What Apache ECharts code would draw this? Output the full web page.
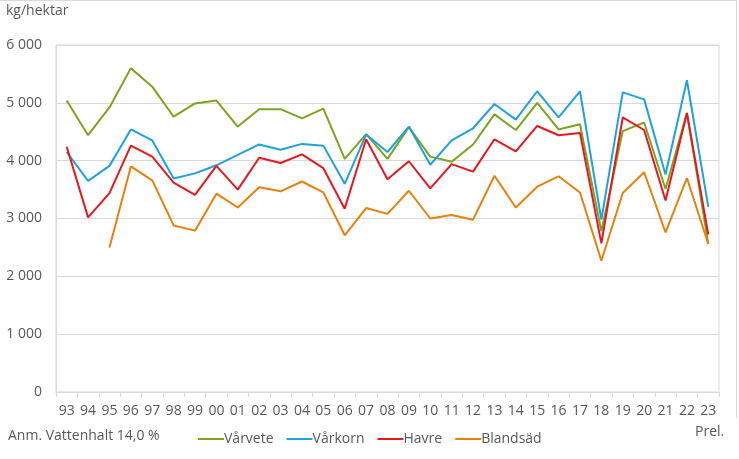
<!DOCTYPE html>
<html>
<head>
<meta charset="utf-8">
<script src="https://cdn.jsdelivr.net/npm/echarts@6/dist/echarts.min.js"></script>
<style>
html,body{margin:0;padding:0;background:#fff;}
#chart{width:739px;height:459px;}
</style>
</head>
<body>
<div id="chart"></div>
<script>
const categories = ['93','94','95','96','97','98','99','00','01','02','03','04','05','06','07','08','09','10','11','12','13','14','15','16','17','18','19','20','21','22','23'];
const varvete = [5040,4440,4920,5600,5280,4760,4990,5040,4590,4890,4890,4730,4900,4030,4460,4030,4580,4070,3980,4280,4800,4530,5000,4540,4630,2780,4510,4660,3510,4830,2560];
const varkorn = [4150,3650,3910,4540,4350,3690,3780,3920,4100,4280,4190,4290,4260,3600,4450,4150,4590,3930,4350,4560,4980,4710,5200,4750,5200,2980,5180,5060,3760,5390,3200];
const havre = [4240,3020,3440,4260,4070,3620,3410,3910,3500,4050,3960,4110,3870,3170,4370,3680,3990,3520,3940,3810,4370,4160,4600,4440,4480,2570,4750,4530,3310,4820,2720];
const blandsad = [null,null,2500,3900,3660,2880,2790,3430,3190,3540,3470,3640,3450,2710,3180,3080,3480,3000,3060,2980,3740,3190,3550,3730,3450,2270,3440,3800,2760,3700,2560];
const seriesNames = ['Vårvete','Vårkorn','Havre','Blandsäd'];
const yTicks = [0,1000,2000,3000,4000,5000,6000];

const colors = ['#7ba41f','#1fa2dc','#e8171f','#e8810c'];
const font = 'Open Sans';
const txt = '#595959';

const chart = echarts.init(document.getElementById('chart'));
const mk = (name, data, c) => ({
  name, type:'line', data, symbol:'none', connectNulls:false,
  lineStyle:{width:2,color:c}, itemStyle:{color:c}, animation:false
});
chart.setOption({
  animation:false,
  grid:{left:56,right:20,top:45,bottom:67,show:true,borderColor:'#d9d9d9',borderWidth:1},
  legend:{
    left:193, top:427, itemWidth:26, itemHeight:2, itemGap:13, icon:'rect',
    textStyle:{fontFamily:font,fontSize:14,color:txt,padding:[0,0,0,-5]},
    data:seriesNames
  },
  xAxis:{
    type:'category', data:categories, boundaryGap:true,
    axisLine:{lineStyle:{color:'#d9d9d9'}},
    axisTick:{show:true,length:5,lineStyle:{color:'#d9d9d9'}},
    axisLabel:{interval:0,margin:12,fontFamily:font,fontSize:14,color:txt}
  },
  yAxis:{
    type:'value', min:yTicks[0], max:yTicks[yTicks.length-1], interval:1000,
    axisLine:{show:true,lineStyle:{color:'#d9d9d9'}},
    axisTick:{show:false},
    splitLine:{lineStyle:{color:'#d9d9d9'}},
    axisLabel:{margin:14,fontFamily:font,fontSize:14,color:txt,
      formatter:v=>String(v).replace(/\B(?=(\d{3})+(?!\d))/g,' ')}
  },
  graphic:[
    {type:'text',left:6,top:4,style:{text:'kg/hektar',fontFamily:font,fontSize:14,fill:txt}},
    {type:'text',left:8,top:429,style:{text:'Anm. Vattenhalt 14,0 %',fontFamily:font,fontSize:14,fill:txt}},
    {type:'text',left:695,top:425,style:{text:'Prel.',fontFamily:font,fontSize:14,fill:txt}},
    {type:'line',shape:{x1:0,y1:0.5,x2:736,y2:0.5},style:{stroke:'#d9d9d9',lineWidth:1}},
    {type:'line',shape:{x1:736.5,y1:0,x2:736.5,y2:418},style:{stroke:'#d9d9d9',lineWidth:1}}
  ],
  series:[
    mk(seriesNames[0],varvete,colors[0]),
    mk(seriesNames[1],varkorn,colors[1]),
    mk(seriesNames[2],havre,colors[2]),
    mk(seriesNames[3],blandsad,colors[3])
  ]
});
</script>
</body>
</html>
